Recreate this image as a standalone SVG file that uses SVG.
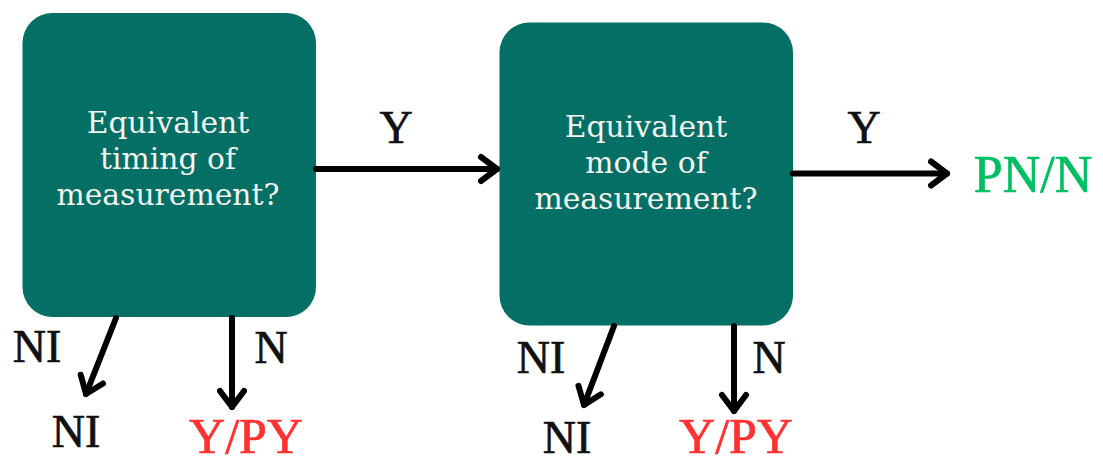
<svg xmlns="http://www.w3.org/2000/svg" width="1103" height="465" viewBox="0 0 1103 465">
<defs>
<style>
.box{fill:#036f65;}
.bt{font-family:"DejaVu Serif","Liberation Serif",serif;font-size:29.8px;fill:#f4f4f0;text-anchor:middle;}
.lb{font-family:"Liberation Serif","DejaVu Serif",serif;font-size:46px;fill:#111111;stroke:#111111;stroke-width:0.7;}
.out{font-family:"Liberation Serif","DejaVu Serif",serif;font-size:50px;stroke-width:0.7;}
.red{fill:#ff3131;stroke:#ff3131;}
.green{fill:#00bf63;stroke:#00bf63;font-size:52px;}
.con{stroke:#000;stroke-width:6;stroke-linecap:round;fill:none;}
</style>
<marker id="chev" markerUnits="userSpaceOnUse" markerWidth="40" markerHeight="40" viewBox="-20 -20 40 40" refX="0" refY="0" orient="auto">
<path d="M-16,-12 L0,0 L-16,12" fill="none" stroke="#000" stroke-width="6" stroke-linecap="round" stroke-linejoin="round"/>
</marker>
</defs>
<rect width="1103" height="465" fill="#ffffff"/>
<g id="node-timing">
<rect class="box" x="22.5" y="13" width="293.5" height="304" rx="30"/>
<text class="bt" x="168" y="133">Equivalent</text>
<text class="bt" x="168" y="169">timing of</text>
<text class="bt" x="168" y="205">measurement?</text>
</g>
<g id="node-mode">
<rect class="box" x="499.5" y="22.5" width="293.5" height="303" rx="30"/>
<text class="bt" x="646" y="137">Equivalent</text>
<text class="bt" x="646" y="173">mode of</text>
<text class="bt" x="646" y="209">measurement?</text>
</g>
<g id="connectors">
<line class="con" x1="316" y1="169" x2="497" y2="169" marker-end="url(#chev)"/>
<line class="con" x1="793" y1="173.5" x2="947" y2="173.5" marker-end="url(#chev)"/>
<line class="con" x1="116" y1="318" x2="86" y2="394" marker-end="url(#chev)"/>
<line class="con" x1="232" y1="318" x2="232" y2="407" marker-end="url(#chev)"/>
<line class="con" x1="614" y1="326" x2="584" y2="405" marker-end="url(#chev)"/>
<line class="con" x1="734" y1="326" x2="734" y2="411" marker-end="url(#chev)"/>
</g>
<g id="labels">
<text class="lb" x="396" y="143" text-anchor="middle">Y</text>
<text class="lb" x="864" y="143" text-anchor="middle">Y</text>
<text class="lb" x="37" y="362" text-anchor="middle">NI</text>
<text class="lb" x="271" y="363" text-anchor="middle">N</text>
<text class="lb" x="541" y="373" text-anchor="middle">NI</text>
<text class="lb" x="769" y="373" text-anchor="middle">N</text>
</g>
<g id="node-ni-1"><text class="lb" x="76" y="447" text-anchor="middle">NI</text></g>
<g id="node-ypy-1"><text class="out red" x="246" y="453" text-anchor="middle">Y/PY</text></g>
<g id="node-ni-2"><text class="lb" x="567" y="453" text-anchor="middle">NI</text></g>
<g id="node-ypy-2"><text class="out red" x="736" y="453" text-anchor="middle">Y/PY</text></g>
<g id="node-pnn"><text class="out green" x="1033" y="192" text-anchor="middle">PN/N</text></g>
</svg>
